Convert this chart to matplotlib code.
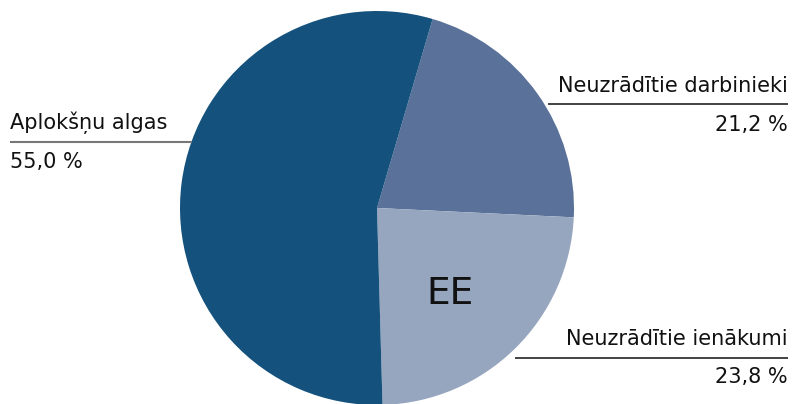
import matplotlib
matplotlib.use("Agg")
import matplotlib.pyplot as plt

categories = ["Neuzrādītie darbinieki", "Neuzrādītie ienākumi", "Aplokšņu algas"]
values = [21.2, 23.8, 55.0]
value_labels = ["21,2 %", "23,8 %", "55,0 %"]
colors = ["#5a7199", "#97a6bf", "#14517c"]
center_label = "EE"

W, H = 794, 404
fig = plt.figure(figsize=(W / 100, H / 100), dpi=100)
ax = fig.add_axes([0, 0, 1, 1])
ax.pie(values, colors=colors, startangle=73.6, counterclock=False,
       center=(377, H - 208), radius=197, wedgeprops=dict(linewidth=0))
ax.set_xlim(0, W)
ax.set_ylim(0, H)
ax.set_aspect("equal")
ax.axis("off")

fs = 15
font = "DejaVu Sans"
def Y(y):
    return H - y

# Left label
ax.text(10, Y(129), categories[2], ha="left", va="baseline", fontsize=fs, family=font, color="#111111")
ax.text(10, Y(168), value_labels[2], ha="left", va="baseline", fontsize=fs, family=font, color="#111111")
ax.plot([10, 192], [Y(142), Y(142)], color="#777777", lw=1.5, solid_capstyle="butt")

# Right top label
ax.text(788, Y(92), categories[0], ha="right", va="baseline", fontsize=fs, family=font, color="#111111")
ax.text(788, Y(131), value_labels[0], ha="right", va="baseline", fontsize=fs, family=font, color="#111111")
ax.plot([548, 788], [Y(104), Y(104)], color="#222222", lw=1.2, solid_capstyle="butt")

# Right bottom label
ax.text(788, Y(345), categories[1], ha="right", va="baseline", fontsize=fs, family=font, color="#111111")
ax.text(788, Y(383), value_labels[1], ha="right", va="baseline", fontsize=fs, family=font, color="#111111")
ax.plot([515, 788], [Y(358), Y(358)], color="#222222", lw=1.2, solid_capstyle="butt")

ax.text(450, Y(304), center_label, ha="center", va="baseline", fontsize=27, family=font, color="#111111")

fig.savefig("out.png", dpi=100)
